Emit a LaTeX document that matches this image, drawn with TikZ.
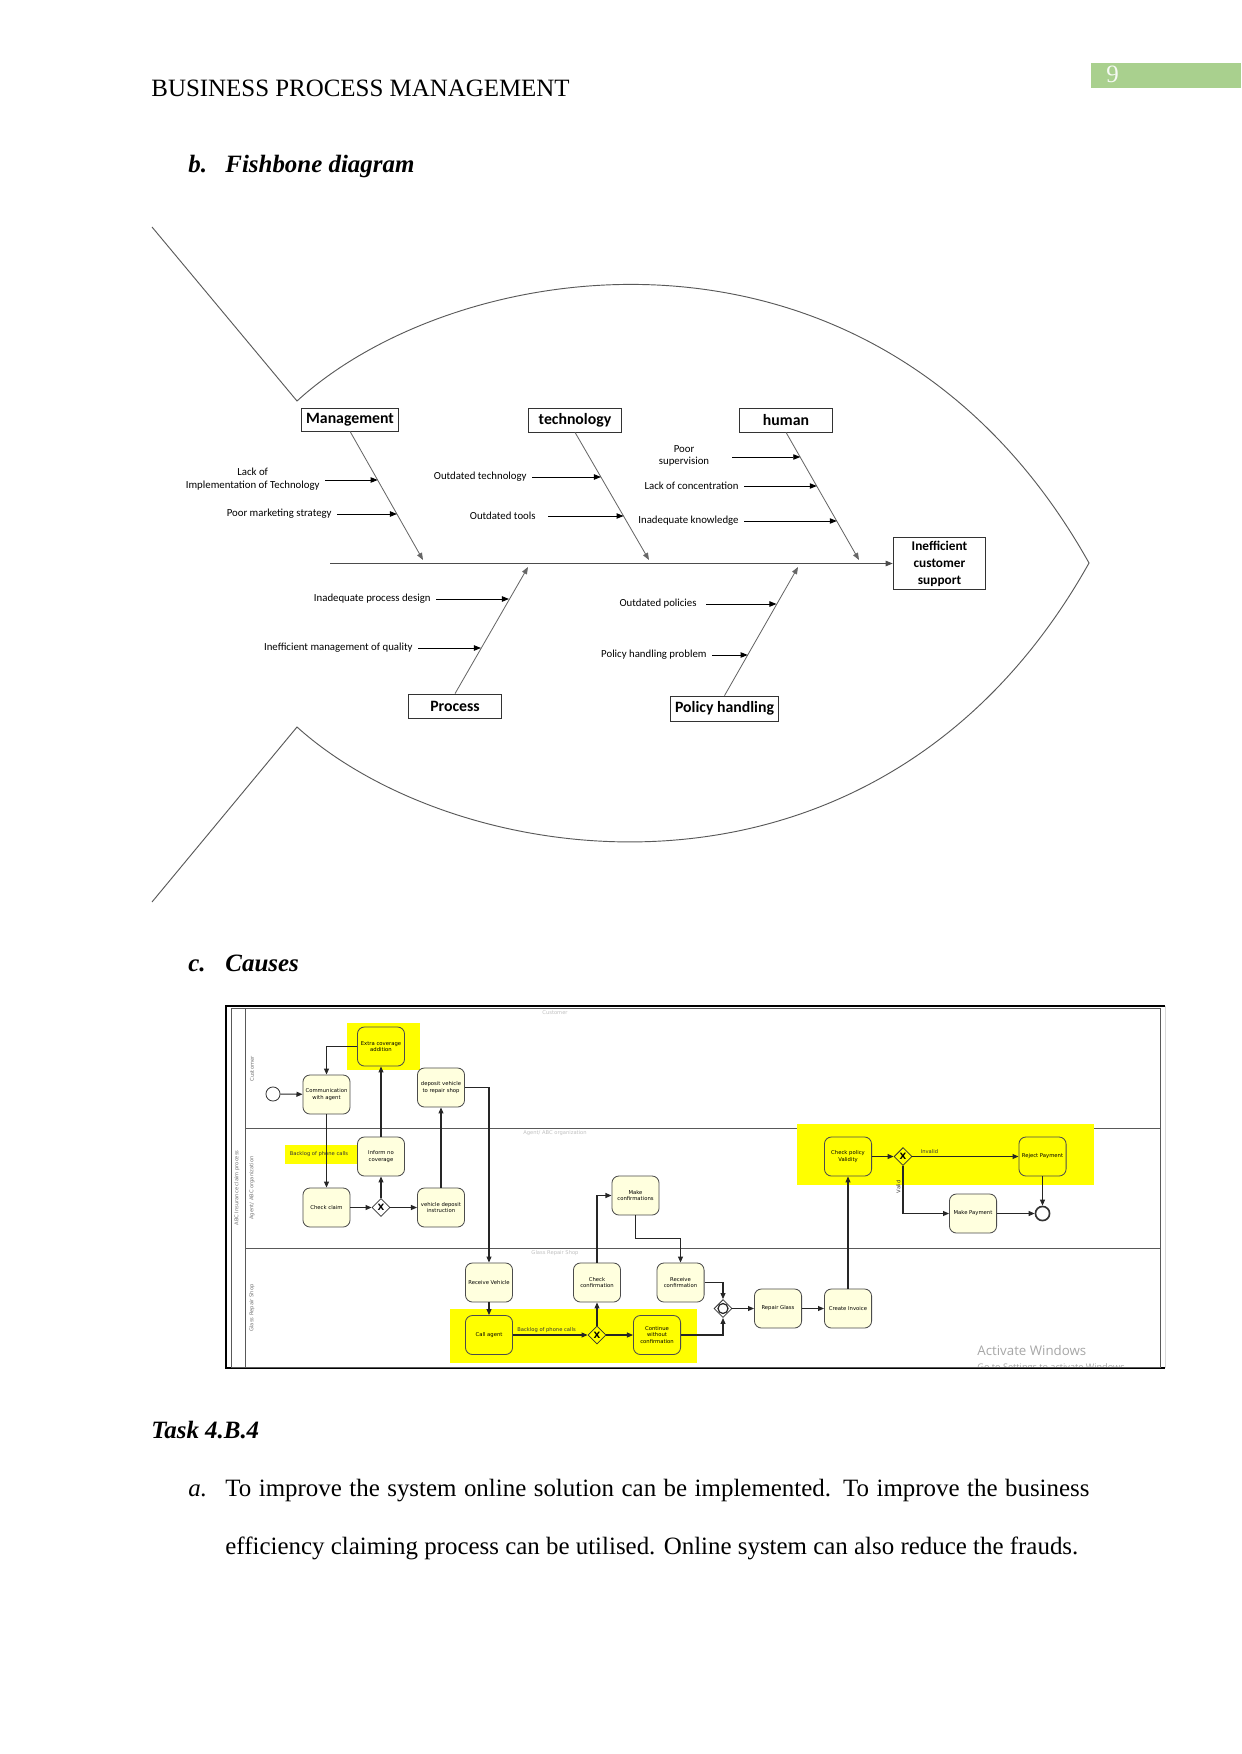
\documentclass[tikz,border=0pt]{standalone}
\usepackage{fontspec}
\setmainfont{Liberation Serif}
\newfontfamily\calibfont{Carlito}
\newfontfamily\bpmnfont{DejaVu Sans}
\newfontfamily\winfont{Open Sans}
\usetikzlibrary{arrows.meta,shapes.geometric,positioning}

\definecolor{pagegreen}{RGB}{169,208,142}
\definecolor{taskfill}{RGB}{255,255,222}
\definecolor{marker}{RGB}{255,255,0}

\begin{document}
\begin{tikzpicture}[
        x=0.0169218cm, y=-0.0169218cm,
        heading/.style={anchor=base west, inner sep=0pt, font=\fontsize{12}{14}\selectfont\bfseries\itshape},
        plain/.style={anchor=base west, inner sep=0pt, font=\fontsize{12}{14}\selectfont},
        outline/.style={draw=black!65, line width=0.45pt},
        category/.style={draw=black!80, rectangle, inner sep=0pt, minimum width=45pt, minimum height=11.5pt, font=\calibfont\fontsize{7.6}{9}\selectfont\bfseries},
        cause/.style={inner sep=0pt, align=center, font=\calibfont\fontsize{5.2}{6}\selectfont},
        bone/.style={draw=black!60, line width=0.4pt, -{Triangle[length=3.4pt,width=2.6pt]}},
        subcause/.style={draw=black, line width=0.45pt, shorten <=2.5pt, -{Triangle[length=3.4pt,width=2.6pt]}},
        task/.style={draw=black!70, fill=taskfill, rounded corners=3.4pt, minimum width=22.7pt, minimum height=18.8pt, inner sep=0.5pt, align=center, font=\bpmnfont\fontsize{2.55}{3}\selectfont},
        hltask/.style={task, fill=marker},
        gateway/.style={draw=black!80, diamond, fill=white, minimum width=8.7pt, minimum height=8.7pt, inner sep=0pt, font=\bpmnfont\fontsize{4.2}{4.2}\selectfont\bfseries},
        event/.style={draw=black!80, circle, fill=white, minimum size=6.8pt, inner sep=0pt},
        flow/.style={draw=black!85, line width=0.5pt, -{Triangle[length=2.9pt,width=2.4pt]}},
        flowlabel/.style={inner sep=1pt, text=black!80, font=\bpmnfont\fontsize{2.5}{3}\selectfont},
        lanetext/.style={inner sep=0pt, text=black!55, font=\bpmnfont\fontsize{2.5}{3}\selectfont}
    ]
    \useasboundingbox (0,0) rectangle (1241,1754);

    % page header
    \node[plain] (header) at (151,97) {BUSINESS PROCESS MANAGEMENT};
    \fill[pagegreen] (1091,63) rectangle (1241,88);
    \node[plain, text=white!90!pagegreen] (pageno) at (1106,83) {9};

    % b. fishbone
    \node[heading] (bmark) at (188,173) {b.};
    \node[heading] (btitle) at (225,173) {Fishbone diagram};

    \draw[outline] (152,227) -- (297,401) .. controls (460,252) and (880,190) .. (1089,563)
                   .. controls (880,936) and (460,874) .. (297,727) -- (152,902);

    \node[category, minimum width=46.6pt, minimum height=11pt] (mgmt) at (350,419.5) {Management};
    \node[category] (tech) at (575,420) {technology};
    \node[category] (human) at (786,420) {human};
    \node[category] (proc) at (455,706) {Process};
    \node[category, minimum width=52.3pt, minimum height=12pt] (policy) at (724.5,708.5) {Policy handling};
    \node[category, minimum width=44.6pt, minimum height=25.4pt, align=center,
          font=\calibfont\fontsize{6.4}{8.2}\selectfont\bfseries] (effect) at (939.5,563.5) {Inefficient\\customer\\support};

    % spine and bones
    \coordinate (spine) at (330,563.5);
    \coordinate (mgmtE) at (423,560);
    \coordinate (techE) at (649,560);
    \coordinate (humanE) at (859,560);
    \coordinate (procE) at (528,567);
    \coordinate (policyE) at (798,567);
    \draw[bone, draw=black!70] (spine) -- (effect.west);
    \draw[bone] (mgmt.south) -- (mgmtE);
    \draw[bone] (tech.south) -- (techE);
    \draw[bone] (human.south) -- (humanE);
    \draw[bone] (proc.north) -- (procE);
    \draw[bone] (policy.north) -- (policyE);

    % causes
    \coordinate (m1) at (377.7,480);
    \coordinate (m2) at (397,514);
    \coordinate (t1) at (601,477);
    \coordinate (t2) at (623.6,516);
    \coordinate (h1) at (800.3,457);
    \coordinate (h2) at (816.8,486);
    \coordinate (h3) at (836.8,521);
    \coordinate (p1) at (509,599);
    \coordinate (p2) at (481,648);
    \coordinate (q1) at (776.5,604);
    \coordinate (q2) at (747.7,655);

    \node[cause, anchor=east] (lackimpl) at (320,479) {Lack of\\Implementation of Technology};
    \node[cause, anchor=east] (poormkt) at (332,514) {Poor marketing strategy};
    \node[cause, anchor=east] (outtech) at (527,477) {Outdated technology};
    \node[cause, anchor=east] (outtools) at (536,516) {Outdated tools};
    \node[cause] (poorsup) at (684,456) {Poor\\supervision};
    \node[cause, anchor=east] (lackconc) at (739,486) {Lack of concentration};
    \node[cause, anchor=east] (inadknow) at (739,521) {Inadequate knowledge};
    \node[cause, anchor=east] (inadproc) at (431,599) {Inadequate process design};
    \node[cause, anchor=east] (ineffq) at (413,648) {Inefficient management of quality};
    \node[cause, anchor=east] (outpol) at (697,604) {Outdated policies};
    \node[cause, anchor=east] (polprob) at (707,655) {Policy handling problem};

    \draw[subcause] (m1 -| lackimpl.east) -- (m1);
    \draw[subcause] (m2 -| poormkt.east) -- (m2);
    \draw[subcause] (t1 -| outtech.east) -- (t1);
    \draw[subcause, shorten <=6pt] (t2 -| outtools.east) -- (t2);
    \draw[subcause, shorten <=11pt] (h1 -| poorsup.east) -- (h1);
    \draw[subcause] (h2 -| lackconc.east) -- (h2);
    \draw[subcause] (h3 -| inadknow.east) -- (h3);
    \draw[subcause] (p1 -| inadproc.east) -- (p1);
    \draw[subcause] (p2 -| ineffq.east) -- (p2);
    \draw[subcause, shorten <=4.5pt] (q1 -| outpol.east) -- (q1);
    \draw[subcause] (q2 -| polprob.east) -- (q2);

    % c. causes
    \node[heading] (cmark) at (188,971) {c.};
    \node[heading] (ctitle) at (225,971) {Causes};

    % pool and lanes
    \draw[line width=1.1pt] (1165,1006) -- (226,1006) -- (226,1368) -- (1165,1368);
    \draw[black!15, line width=0.5pt] (1165,1006) -- (1165,1368);
    \draw[black!65, line width=0.4pt] (231,1008) rectangle (1160,1367);
    \draw[black!65, line width=0.4pt] (245,1008) -- (245,1367);
    \draw[black!65, line width=0.4pt] (245,1128) -- (1160,1128);
    \draw[black!65, line width=0.4pt] (245,1248) -- (1160,1248);

    \node[lanetext, rotate=90] (pool) at (237,1188) {ABC Insurance claim process};
    \node[lanetext, rotate=90] (laneA) at (252,1069) {Customer};
    \node[lanetext, rotate=90] (laneB) at (252,1188) {Agent/ ABC organization};
    \node[lanetext, rotate=90] (laneC) at (252,1308) {Glass Repair Shop};
    \node[lanetext, text=black!25] (titleA) at (555,1013) {Customer};
    \node[lanetext, text=black!25] (titleB) at (555,1133) {Agent/ ABC organization};
    \node[lanetext, text=black!25] (titleC) at (555,1253) {Glass Repair Shop};

    % highlighted problems
    \fill[marker] (347,1023) rectangle (420,1070);
    \fill[marker] (285,1145) rectangle (360,1164);
    \fill[marker] (797,1124) rectangle (1094,1185);
    \fill[marker] (450,1309) rectangle (697,1363);
    \node[flowlabel] (backlogA) at (319,1154.5) {Backlog of phone calls};

    % customer lane
    \node[event] (start) at (273,1094) {};
    \node[task] (comm) at (326.5,1094.5) {Communication\\with agent};
    \node[hltask] (ext) at (381,1046.5) {Extra coverage\\addition};
    \node[task] (dep) at (441,1087.5) {deposit vehicle\\to repair shop};

    % agent lane
    \node[task] (inform) at (381,1156.5) {Inform no\\coverage};
    \node[task] (check) at (326.5,1207.5) {Check claim};
    \node[gateway] (gwa) at (381,1207.5) {X};
    \node[task] (vdi) at (441,1207.5) {vehicle deposit\\instruction};
    \node[task] (makeconf) at (635.5,1195.5) {Make\\confirmations};
    \node[hltask] (chkpol) at (848,1156.5) {Check policy\\Validity};
    \node[gateway, fill=marker] (gwp) at (903,1156.5) {X};
    \node[hltask] (reject) at (1042.5,1156.5) {Reject Payment};
    \node[task] (makepay) at (973,1213.5) {Make Payment};
    \node[event, line width=0.8pt] (endev) at (1042.5,1213.5) {};

    % glass repair shop lane
    \node[task] (recv) at (489,1282.5) {Receive Vehicle};
    \node[task] (chkconf) at (597,1282.5) {Check\\confirmation};
    \node[task] (recvconf) at (680.5,1282.5) {Receive\\confirmation};
    \node[hltask] (call) at (489,1335) {Call agent};
    \node[gateway, fill=marker] (gwg) at (597,1335) {X};
    \node[hltask] (cont) at (657,1335) {Continue\\without\\confirmation};
    \node[gateway] (merge) at (723,1308.5) {};
    \node[draw=black!85, circle, line width=0.6pt, minimum size=4.8pt, inner sep=0pt] (mergeO) at (merge) {};
    \node[task] (repair) at (778,1308.5) {Repair Glass};
    \node[task] (invoice) at (848,1308.5) {Create Invoice};

    % sequence flows
    \draw[flow] (start) -- (comm);
    \draw[flow] (comm) -- (check);
    \draw[flow] (ext.west) -| (comm.north);
    \draw[flow] (check) -- (gwa);
    \draw[flow] (gwa) -- (inform);
    \draw[flow] (inform) -- (ext);
    \draw[flow] (gwa) -- (vdi);
    \draw[flow] (vdi) -- (dep);
    \draw[flow] (dep.east) -| (recv.north);
    \draw[flow] (recv) -- (call);
    \draw[flow] (call) -- node[flowlabel, above, pos=0.45] {Backlog of phone calls} (gwg);
    \draw[flow] (gwg) -- (chkconf);
    \draw[flow] (gwg) -- (cont);
    \draw[flow] (chkconf.north) |- (makeconf.west);
    \draw[flow] (makeconf.south) -- ++(0,23) -| (recvconf.north);
    \draw[flow] (recvconf.east) -| (merge.north);
    \draw[flow] (cont.east) -| (merge.south);
    \draw[flow] (merge) -- (repair);
    \draw[flow] (repair) -- (invoice);
    \draw[flow] (invoice) -- (chkpol);
    \draw[flow] (chkpol) -- (gwp);
    \draw[flow] (gwp) -- node[flowlabel, above, pos=0.16] {Invalid} (reject);
    \draw[flow] (gwp.south) |- node[flowlabel, pos=0.22, anchor=south, rotate=90] {Valid} (makepay.west);
    \draw[flow] (makepay) -- (endev);
    \draw[flow] (reject) -- (endev);

    % screen watermark
    \begin{scope}
        \clip (231,1008) rectangle (1160,1366);
        \node[anchor=base west, inner sep=0pt, text=black!35, font=\winfont\fontsize{6.4}{7}\selectfont] (win) at (977,1355) {Activate Windows};
        \node[anchor=base west, inner sep=0pt, text=black!35, font=\winfont\fontsize{4.4}{5}\selectfont] (winhint) at (977,1370) {Go to Settings to activate Windows.};
    \end{scope}

    % task 4.B.4
    \node[heading] (task) at (151,1438) {Task 4.B.4};
    \node[plain, font=\fontsize{12}{14}\selectfont\itshape] (amark) at (188,1496) {a.};
    \node[plain] (line1) at (225,1496) {\makebox[416pt][s]{To improve the system online solution can be implemented. To improve the business}};
    \node[plain] (line2) at (225,1554) {efficiency claiming process can be utilised. Online system can also reduce the frauds.};
\end{tikzpicture}
\end{document}
